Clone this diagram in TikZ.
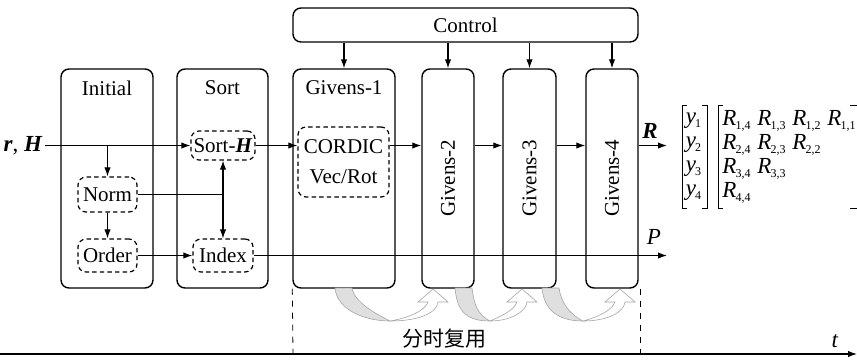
\documentclass[tikz,border=0pt]{standalone}
\usepackage{fontspec}
\setmainfont{Liberation Serif}
\newfontfamily\cjk{Noto Sans CJK SC}
\usetikzlibrary{arrows.meta,positioning}

\newcommand\idx[1]{\kern-0.4pt\textsubscript{\fontsize{6}{7}\selectfont #1}}

\tikzset{
    block/.style={draw, line width=0.7pt, rounded corners=4pt, inner sep=0pt},
    subblock/.style={draw, line width=0.6pt, dash pattern=on 2.2pt off 1.6pt, rounded corners=4pt, inner sep=0pt},
    arr/.style={line width=0.55pt, -{Latex[length=4.5pt,width=3.2pt]}},
    twist/.style={draw=gray!70, line width=0.3pt},
    sym/.style={font=\fontsize{11.5}{14}\selectfont},
    entry/.style={sym, anchor=west, inner sep=0pt}
}

\begin{document}
\begin{tikzpicture}[x=0.5pt, y=-0.5pt, font=\fontsize{10.5}{12}\selectfont]
            \useasboundingbox (0,0) rectangle (857,361);

            % 控制模块
            \node[block, minimum width=172.5pt, minimum height=17pt] (control) at (465.5,25) {Control};

            % 各级模块
            \node[block, minimum width=46pt, minimum height=109.5pt] (init) at (107,178.5) {};
            \node[block, minimum width=45.5pt, minimum height=109.5pt] (sort) at (222.5,178.5) {};
            \node[block, minimum width=51pt, minimum height=109.5pt] (g1) at (344,178.5) {};
            \node[block, minimum width=26pt, minimum height=109.5pt] (g2) at (448,178.5) {};
            \node[block, minimum width=26.5pt, minimum height=109.5pt] (g3) at (529.5,178.5) {};
            \node[block, minimum width=26pt, minimum height=109.5pt] (g4) at (612,178.5) {};

            \node at (107,88) {Initial};
            \node at (222.5,88) {Sort};
            \node at (344,88) {Givens-1};
            \node[rotate=90] at (448,178) {Givens-2};
            \node[rotate=90] at (529.5,178) {Givens-3};
            \node[rotate=90] at (612,178) {Givens-4};

            % 内部子模块
            \node[subblock, minimum width=29.5pt, minimum height=17.5pt] (norm) at (107.5,194.5) {Norm};
            \node[subblock, minimum width=29.5pt, minimum height=16.5pt] (order) at (107.5,255.5) {Order};
            \node[subblock, minimum width=32pt, minimum height=14.5pt] (sortH) at (223,145.5) {Sort-\textbf{\textit{H}}};
            \node[subblock, minimum width=30pt, minimum height=16.5pt] (index) at (223,255.5) {Index};
            \node[subblock, minimum width=45.5pt, minimum height=35pt, align=center] (cordic) at (343.5,162) {CORDIC\\[3pt]Vec/Rot};

            % 输入输出
            \node[sym, anchor=east, inner sep=1pt] (rH) at (45,145.5) {\textbf{\textit{r}}, \textbf{\textit{H}}};
            \coordinate (Rend) at (667,145.5);
            \coordinate (Pend) at (667,255.5);
            \node[sym] at (650,131) {\textbf{\textit{R}}};
            \node[sym] at (654,237) {\textit{P}};

            \draw[arr] (rH.east) -- (sortH.west);
            \draw[arr] (rH.east -| norm) -- (norm.north);
            \draw[arr] (norm) -- (order);
            \draw[line width=0.55pt] (norm.east) -- (norm.east -| sortH);
            \draw[line width=0.55pt, {Latex[length=4.5pt,width=3.2pt]}-{Latex[length=4.5pt,width=3.2pt]}] (sortH) -- (index);
            \draw[arr] (order) -- (index);
            \draw[arr] (index.east) -- (Pend);
            \draw[arr] (sortH.east) -- (cordic.west |- sortH);
            \draw[arr] (cordic.east |- sortH) -- (g2.west |- sortH);
            \draw[arr] (g2.east |- sortH) -- (g3.west |- sortH);
            \draw[arr] (g3.east |- sortH) -- (g4.west |- sortH);
            \draw[arr] (g4.east |- sortH) -- (Rend);

            % 控制信号
            \draw[arr] (control.south -| g1) -- (g1.north);
            \draw[arr] (control.south -| g2) -- (g2.north);
            \draw[arr] (control.south -| g3) -- (g3.north);
            \draw[arr] (control.south -| g4) -- (g4.north);

            % 输出矩阵
            \draw[line width=0.5pt] (687,105) -- (682,105) -- (682,208) -- (687,208);
            \draw[line width=0.5pt] (702,105) -- (707,105) -- (707,208) -- (702,208);
            \draw[line width=0.5pt] (723,105) -- (718,105) -- (718,208) -- (723,208);
            \draw[line width=0.5pt] (850,105) -- (858.5,105) -- (858.5,208) -- (850,208);
            \node[sym] (y1) at (694,121) {\textit{y}\idx{1}};
            \node[sym] (y2) at (694,145) {\textit{y}\idx{2}};
            \node[sym] (y3) at (694,169) {\textit{y}\idx{3}};
            \node[sym] (y4) at (694,193) {\textit{y}\idx{4}};
            \node[entry] at (722,121) {\textit{R}\idx{1,4}};
            \node[entry] at (757,121) {\textit{R}\idx{1,3}};
            \node[entry] at (792,121) {\textit{R}\idx{1,2}};
            \node[entry] at (827,121) {\textit{R}\idx{1,1}};
            \node[entry] at (722,145) {\textit{R}\idx{2,4}};
            \node[entry] at (757,145) {\textit{R}\idx{2,3}};
            \node[entry] at (792,145) {\textit{R}\idx{2,2}};
            \node[entry] at (722,169) {\textit{R}\idx{3,4}};
            \node[entry] at (757,169) {\textit{R}\idx{3,3}};
            \node[entry] at (722,193) {\textit{R}\idx{4,4}};

            % 分时复用
            \foreach \a/\b/\t in {335/390/433, 455/490/522, 542/583/620}{
                \draw[twist, fill=gray!25] (\a,288) .. controls ({\a+2},310) and ({\b-25},321) .. (\b,321)
                    .. controls ({\b-14},314) and ({\a+19},302) .. ({\a+17},288) -- cycle;
                \draw[twist, fill=white] (\b,321) .. controls ({\t-12},321) and ({\t+4},312) .. ({\t+5},302)
                    -- ({\t+15},302) -- (\t,289) -- ({\t-15},302) -- ({\t-5},302)
                    .. controls ({\t-8},311) and ({\t-25},318) .. (\b,321);
            }
            \coordinate (tl) at (293,354);
            \coordinate (tr) at (640,354);
            \draw[dashed, line width=0.4pt] (g1.south west) -- (tl);
            \draw[dashed, line width=0.4pt] (tr |- g4.south) -- (tr);
            \node at (444,339) {\cjk 分时复用};

            % 时间轴
            \coordinate (t0) at (0,354);
            \coordinate (t1) at (857,354);
            \draw[arr] (t0) -- (t1);
            \node[sym] at (835,341) {\textit{t}};

        \end{tikzpicture}
\end{document}
